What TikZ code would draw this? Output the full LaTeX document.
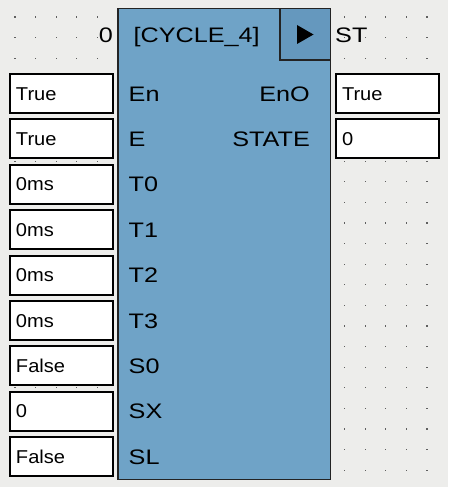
\documentclass[tikz,border=0pt]{standalone}
\usepackage{fontspec}
\setmainfont{Liberation Sans}
\newfontfamily\pinfam[FakeStretch=1.2]{Liberation Sans}
\newfontfamily\valfam[FakeStretch=1.08]{Liberation Sans}
\usetikzlibrary{positioning}

\definecolor{bgcol}{RGB}{237,237,235}
\definecolor{blockcol}{RGB}{111,163,199}
\definecolor{btncol}{RGB}{101,152,190}
\definecolor{dotcol}{RGB}{95,95,95}
\definecolor{edgecol}{RGB}{35,35,35}

\newcommand{\pinfont}{\pinfam\fontsize{21pt}{24pt}\selectfont}
\newcommand{\valfont}{\valfam\fontsize{18.6pt}{22pt}\selectfont}

\tikzset{
  valbox/.style={draw=black, line width=2pt, fill=white, minimum width=103pt, minimum height=39pt,
    inner xsep=6pt, inner ysep=0pt, text width=91pt, align=left, text height=13.3pt, text depth=0pt, font=\valfont},
  pinname/.style={inner sep=0pt, text height=15pt, text depth=0pt, font=\pinfont},
  fblock/.style={draw=edgecol, line width=1.5pt, fill=blockcol, minimum width=212.5pt, minimum height=470.5pt, inner sep=0pt},
  runbtn/.style={draw=edgecol, line width=1.5pt, fill=btncol, minimum width=50.5pt, minimum height=51.5pt, inner sep=0pt}
}

\begin{document}
\begin{tikzpicture}[x=1pt, y=-1pt]
  \fill[bgcol] (0,0) rectangle (448,487);
  \useasboundingbox (0,0) rectangle (448,487);

  % grid dots
  \foreach \i in {0,...,20}
    \foreach \j in {0,...,22}
      \fill[dotcol] (14.4+20.6*\i, 16.4+20.6*\j) rectangle ++(1.2,1.2);

  % function block
  \node[fblock] (fb) at (224,244) {};
  \node[runbtn, anchor=north east] (run) at (fb.north east) {};
  \fill[black] (run.center) ++(-8,-9.5) -- ++(0,19) -- ++(16.5,-9.5) -- cycle;

  \node[pinname, anchor=east] (cnt) at (113,35) {0};
  \node[pinname, anchor=west] (title) at (133.5,35) {[CYCLE\_4]};
  \node[pinname, anchor=west] (stname) at (335,35) {ST};

  % inputs
  \foreach \pin/\val [count=\k from 0] in {En/True, E/True, T0/0ms, T1/0ms, T2/0ms, T3/0ms, S0/False, SX/0, SL/False}
  {
    \node[valbox] (in\k) at (61.5, 93.5+45.4*\k) {\val};
    \node[pinname, right=14.5pt of in\k] (pin\k) {\pin};
  }

  % outputs
  \foreach \pin/\val [count=\k from 0] in {EnO/True, STATE/0}
  {
    \node[valbox] (out\k) at (387.5, 93.5+45.4*\k) {\val};
    \node[pinname, left=25pt of out\k] (opin\k) {\pin};
  }
\end{tikzpicture}
\end{document}
